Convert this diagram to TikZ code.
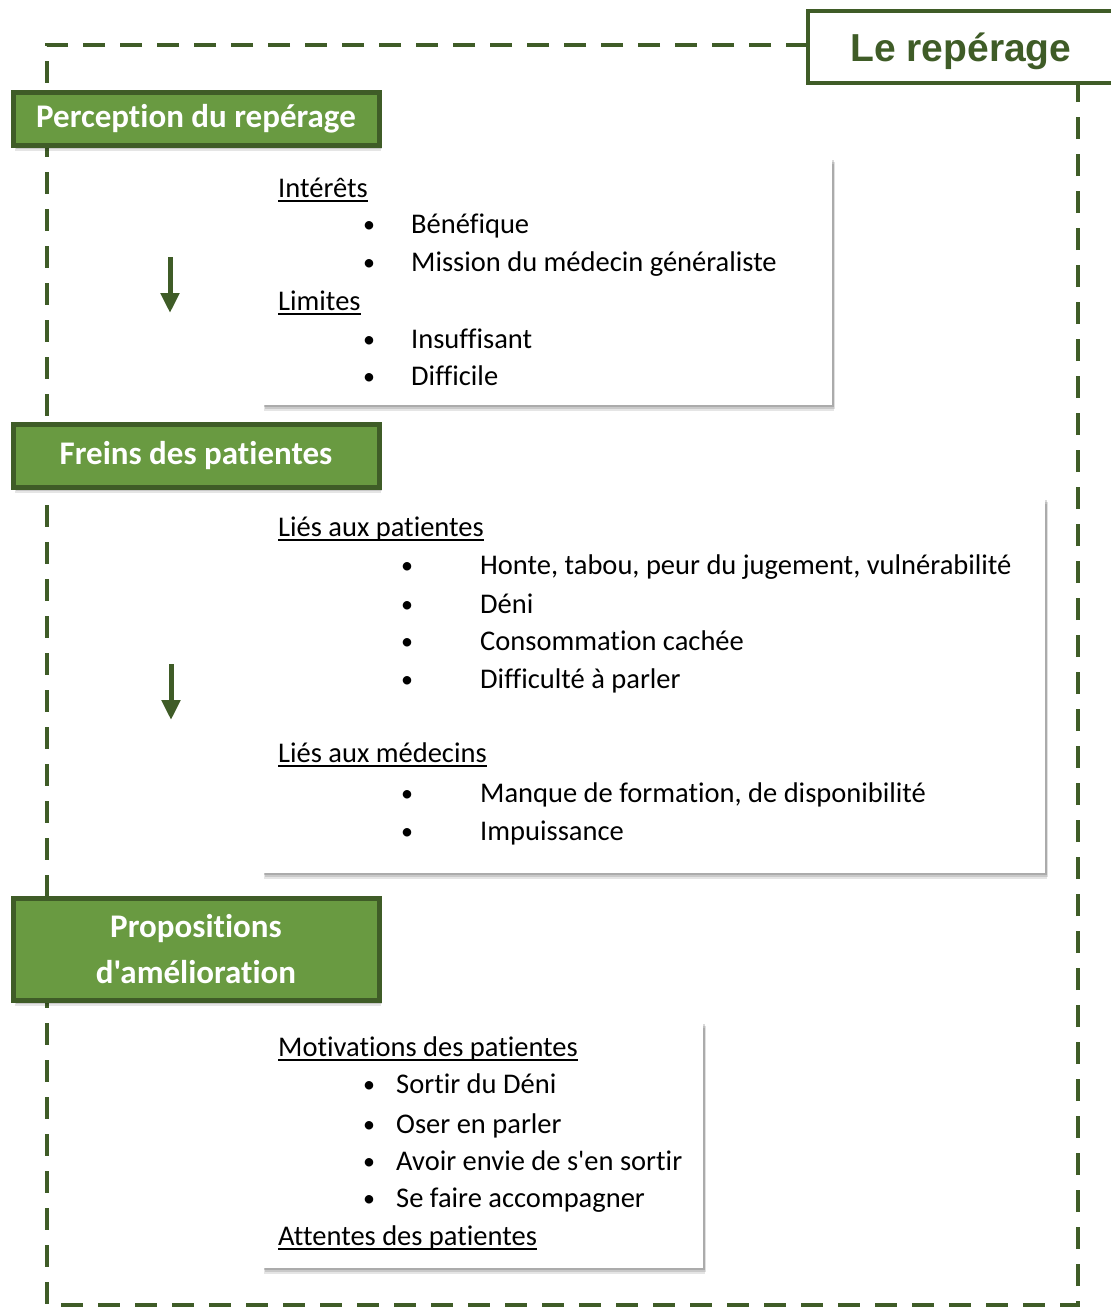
\documentclass[tikz,border=0pt]{standalone}
\usepackage{fontspec}
\newfontfamily\bodyfont{Carlito}[Ligatures=NoCommon]
\setmainfont{Carlito}
\newfontfamily\titlefont{Liberation Sans}
\usetikzlibrary{shadows,arrows.meta}
\definecolor{dkgreen}{HTML}{3F5C27}
\definecolor{hdrfill}{HTML}{699A41}
\newcommand\myul[1]{\setbox0\hbox{#1}\rlap{\rule[-5pt]{\wd0}{2.3pt}}\box0}
\tikzset{
  frameline/.style={draw=dkgreen, line width=4pt, dash pattern=on 22pt off 15pt},
  softshadow/.style={
     preaction={fill=black, opacity=0.10, transform canvas={shift={(2pt,-6pt)}}},
     preaction={fill=black, opacity=0.12, transform canvas={shift={(3pt,-4pt)}}},
     preaction={fill=black, opacity=0.15, transform canvas={shift={(2pt,-2pt)}}}},
  header/.style={draw=dkgreen, fill=hdrfill, line width=5pt, text=white, softshadow,
     font=\bodyfont\fontsize{33}{46}\selectfont\bfseries, align=center},
  panel/.style={fill=white, draw=none, softshadow},
  bodytxt/.style={anchor=base west, inner sep=0pt, font=\bodyfont\fontsize{28.5}{32}\selectfont, text=black},
  bul/.style={anchor=base, inner sep=0pt, font=\bodyfont\fontsize{24}{32}\selectfont, text=black},
  flowarrow/.style={draw=dkgreen, line width=5pt, -{Triangle[width=18pt,length=20pt]}},
}
\begin{document}
\begin{tikzpicture}[x=1pt,y=-1pt]
\useasboundingbox (0,0) rectangle (1111,1307);
% dashed frame
\coordinate (tl) at (47,45);
\coordinate (tr) at (808,45);
\coordinate (bl) at (47,1305);
\coordinate (br) at (1078,1305);
\coordinate (rt) at (1078,84);
\draw[frameline] (tr) -- (tl) -- (bl) -- (br) -- (rt);
% title
\node[draw=dkgreen, fill=white, line width=4pt, minimum width=306pt, minimum height=72pt,
  text=dkgreen, font=\titlefont\fontsize{39}{45}\selectfont\bfseries] (title) at (961,47) {};
\node[text=dkgreen, font=\titlefont\fontsize{39}{45}\selectfont\bfseries, anchor=base] (titletxt) at (961,61) {Le repérage};
% panels
\node[panel, minimum width=570pt, minimum height=247pt] (p1) at (547,281.5) {};
\node[panel, minimum width=783pt, minimum height=375pt] (p2) at (653.5,685.5) {};
\node[panel, minimum width=441pt, minimum height=246pt] (p3) at (482.5,1145) {};
% headers
\node[header, minimum width=366pt, minimum height=53pt] (h1) at (196,118.5) {Perception du repérage};
\node[header, minimum width=366pt, minimum height=63pt] (h2) at (196,455.5) {Freins des patientes};
\node[header, minimum width=366pt, minimum height=102pt] (h3) at (196,949) {Propositions\\d'amélioration};
% arrows
\coordinate (a1s) at (170,257);
\coordinate (a1e) at (170,313);
\coordinate (a2s) at (171,664);
\coordinate (a2e) at (171,720);
\draw[flowarrow] (a1s) -- (a1e);
\draw[flowarrow] (a2s) -- (a2e);
% panel 1 text
\node[bodytxt] (t11) at (278,197) {\myul{Intérêts}};
\node[bul] (b12) at (369,232) {•};
\node[bodytxt] (t12) at (411,233) {Bénéfique};
\node[bul] (b13) at (369,270) {•};
\node[bodytxt] (t13) at (411,271) {Mission du médecin généraliste};
\node[bodytxt] (t14) at (278,310) {\myul{Limites}};
\node[bul] (b15) at (369,347) {•};
\node[bodytxt] (t15) at (411,348) {Insuffisant};
\node[bul] (b16) at (369,384) {•};
\node[bodytxt] (t16) at (411,385) {Difficile};
% panel 2 text
\node[bodytxt] (t21) at (278,536) {\myul{Liés aux patientes}};
\node[bul] (b22) at (407,573) {•};
\node[bodytxt] (t22) at (480,574) {Honte, tabou, peur du jugement, vulnérabilité};
\node[bul] (b23) at (407,612) {•};
\node[bodytxt] (t23) at (480,613) {Déni};
\node[bul] (b24) at (407,649) {•};
\node[bodytxt] (t24) at (480,650) {Consommation cachée};
\node[bul] (b25) at (407,687) {•};
\node[bodytxt] (t25) at (480,688) {Difficulté à parler};
\node[bodytxt] (t26) at (278,762) {\myul{Liés aux médecins}};
\node[bul] (b27) at (407,801) {•};
\node[bodytxt] (t27) at (480,802) {Manque de formation, de disponibilité};
\node[bul] (b28) at (407,839) {•};
\node[bodytxt] (t28) at (480,840) {Impuissance};
% panel 3 text
\node[bodytxt] (t31) at (278,1056) {\myul{Motivations des patientes}};
\node[bul] (b32) at (369,1092) {•};
\node[bodytxt] (t32) at (396,1093) {Sortir du Déni};
\node[bul] (b33) at (369,1132) {•};
\node[bodytxt] (t33) at (396,1133) {Oser en parler};
\node[bul] (b34) at (369,1169) {•};
\node[bodytxt] (t34) at (396,1170) {Avoir envie de s'en sortir};
\node[bul] (b35) at (369,1206) {•};
\node[bodytxt] (t35) at (396,1207) {Se faire accompagner};
\node[bodytxt] (t36) at (278,1245) {\myul{Attentes des patientes}};
\end{tikzpicture}
\end{document}
